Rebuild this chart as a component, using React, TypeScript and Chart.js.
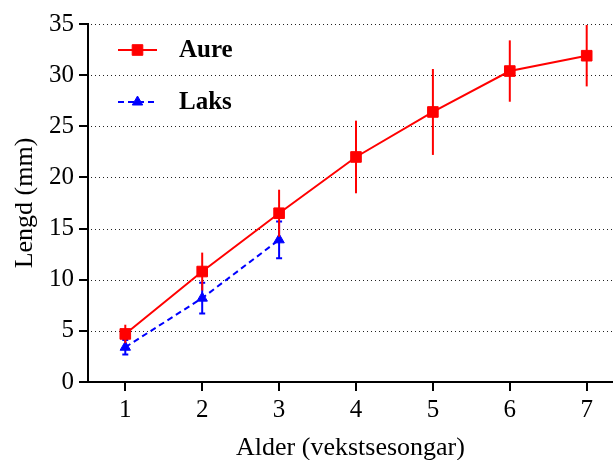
import React, { useEffect, useRef } from "react";
import { Chart, registerables } from "chart.js";

Chart.register(...registerables);

// ---- data ----
const ages = [1, 2, 3, 4, 5, 6, 7];
const aureMean = [4.7, 10.8, 16.5, 22.0, 26.4, 30.4, 31.9];
const aureErr = [0.9, 1.85, 2.3, 3.55, 4.2, 3.0, 3.0];
const laksAges = [1, 2, 3];
const laksMean = [3.4, 8.2, 13.9];
const laksErr = [0.7, 1.5, 1.8];
const yTickValues = [0, 5, 10, 15, 20, 25, 30, 35];
const xTickValues = [1, 2, 3, 4, 5, 6, 7];
const seriesNames = ["Aure", "Laks"];
const xTitle = "Alder (vekstsesongar)";
const yTitle = "Lengd (mm)";

const FONT = "'Liberation Serif', 'Times New Roman', serif";
const RED = "#ff0000";
const BLUE = "#0000ff";

const errorBarPlugin = {
  id: "errorBars",
  beforeDatasetDraw(chart: any, args: any) {
    const ds = chart.data.datasets[args.index];
    const errs: number[] = ds.errors;
    if (!errs) return;
    const ctx = chart.ctx;
    const ys = chart.scales.y;
    const xs = chart.scales.x;
    ctx.save();
    ctx.strokeStyle = ds.borderColor;
    ctx.lineWidth = 2;
    ctx.setLineDash([]);
    ds.data.forEach((p: any, i: number) => {
      const x = xs.getPixelForValue(p.x);
      const yTop = ys.getPixelForValue(p.y + errs[i]);
      const yBot = ys.getPixelForValue(p.y - errs[i]);
      ctx.beginPath();
      ctx.moveTo(x, yTop);
      ctx.lineTo(x, yBot);
      const cw = ds.capWidth || 0;
      if (cw > 0) {
        ctx.moveTo(x - cw, yTop);
        ctx.lineTo(x + cw, yTop);
        ctx.moveTo(x - cw, yBot);
        ctx.lineTo(x + cw, yBot);
      }
      ctx.stroke();
    });
    ctx.restore();
  },
};

const dottedGridPlugin = {
  id: "dottedGrid",
  beforeDatasetsDraw(chart: any) {
    const ctx = chart.ctx;
    const ys = chart.scales.y;
    const { left, right } = chart.chartArea;
    ctx.save();
    ctx.strokeStyle = "#222";
    ctx.lineWidth = 1;
    ctx.setLineDash([1, 3]);
    yTickValues.forEach((v) => {
      if (v === 0) return;
      const y = Math.round(ys.getPixelForValue(v)) + 0.5;
      ctx.beginPath();
      ctx.moveTo(left + 3, y);
      ctx.lineTo(right, y);
      ctx.stroke();
    });
    ctx.restore();
  },
};

const legendPlugin = {
  id: "insideLegend",
  afterDraw(chart: any) {
    const ctx = chart.ctx;
    const rows = [
      { y: 50, ds: chart.data.datasets[0] },
      { y: 102, ds: chart.data.datasets[1] },
    ];
    rows.forEach(({ y, ds }) => {
      ctx.save();
      ctx.strokeStyle = ds.borderColor;
      ctx.lineWidth = 2;
      ctx.setLineDash(ds.borderDash || []);
      ctx.beginPath();
      ctx.moveTo(118, y);
      ctx.lineTo(157, y);
      ctx.stroke();
      ctx.setLineDash([]);
      ctx.fillStyle = ds.backgroundColor;
      const cx = 137.5;
      ctx.beginPath();
      if (ds.pointStyle === "rect") {
        const s = Math.SQRT1_2 * ds.pointRadius;
        ctx.rect(cx - s, y - s, 2 * s, 2 * s);
      } else {
        const r = ds.pointRadius;
        let rad = 0;
        ctx.moveTo(cx + Math.sin(rad) * r, y - Math.cos(rad) * r);
        rad += (2 * Math.PI) / 3;
        ctx.lineTo(cx + Math.sin(rad) * r, y - Math.cos(rad) * r);
        rad += (2 * Math.PI) / 3;
        ctx.lineTo(cx + Math.sin(rad) * r, y - Math.cos(rad) * r);
        ctx.closePath();
      }
      ctx.fill();
      ctx.lineWidth = 1;
      ctx.strokeStyle = ds.borderColor;
      ctx.stroke();
      ctx.fillStyle = "#000";
      ctx.font = `bold 25px ${FONT}`;
      ctx.textBaseline = "middle";
      ctx.textAlign = "left";
      ctx.fillText(ds.label, 179, y + 1);
      ctx.restore();
    });
  },
};

export default function App() {
  const canvasRef = useRef<HTMLCanvasElement | null>(null);

  useEffect(() => {
    document.body.style.margin = "0";
    const canvas = canvasRef.current;
    if (!canvas) return;
    const chart = new Chart(canvas, {
      type: "line",
      data: {
        datasets: [
          {
            label: seriesNames[0],
            data: ages.map((x, i) => ({ x, y: aureMean[i] })),
            borderColor: RED,
            backgroundColor: RED,
            borderWidth: 2,
            pointStyle: "rect",
            pointRadius: 7.5,
            pointHoverRadius: 7.5,
            pointBorderWidth: 1,
            pointBackgroundColor: RED,
            pointBorderColor: RED,
            tension: 0,
            clip: false,
            errors: aureErr,
            capWidth: 0,
          } as any,
          {
            label: seriesNames[1],
            data: laksAges.map((x, i) => ({ x, y: laksMean[i] })),
            borderColor: BLUE,
            backgroundColor: BLUE,
            borderWidth: 2,
            borderDash: [6, 4],
            pointStyle: "triangle",
            pointRadius: 6,
            pointHoverRadius: 6,
            pointBorderWidth: 1,
            pointBackgroundColor: BLUE,
            pointBorderColor: BLUE,
            tension: 0,
            clip: false,
            errors: laksErr,
            capWidth: 3,
          } as any,
        ],
      },
      options: {
        responsive: false,
        animation: false,
        devicePixelRatio: 1,
        layout: { autoPadding: false, padding: { top: 24, right: 0, left: 0, bottom: 0 } },
        plugins: {
          legend: { display: false },
          tooltip: { enabled: false },
        },
        scales: {
          x: {
            type: "linear",
            min: 0.515,
            max: 7.342,
            afterBuildTicks: (s: any) => {
              s.ticks = xTickValues.map((v) => ({ value: v }));
            },
            afterFit: (s: any) => {
              s.height = 78;
              s.paddingLeft = 0;
              s.paddingRight = 0;
            },
            grid: {
              drawOnChartArea: false,
              drawTicks: true,
              tickLength: 9,
              color: "#000",
              lineWidth: 2,
            },
            border: { display: true, color: "#000", width: 2 },
            ticks: {
              color: "#000",
              font: { family: FONT, size: 25 },
              padding: 4,
              autoSkip: false,
              maxRotation: 0,
            },
            title: {
              display: true,
              text: xTitle,
              color: "#000",
              font: { family: FONT, size: 26, lineHeight: 1 },
              padding: { top: 0, bottom: -1 },
            },
          },
          y: {
            type: "linear",
            min: 0,
            max: 35,
            afterBuildTicks: (s: any) => {
              s.ticks = yTickValues.map((v) => ({ value: v }));
            },
            afterFit: (s: any) => {
              s.width = 88;
              s.paddingTop = 0;
              s.paddingBottom = 0;
            },
            grid: {
              drawOnChartArea: false,
              drawTicks: true,
              tickLength: 9,
              color: "#000",
              lineWidth: 2,
            },
            border: { display: true, color: "#000", width: 2 },
            ticks: {
              color: "#000",
              font: { family: FONT, size: 25 },
              padding: 5,
            },
            title: {
              display: true,
              text: yTitle,
              color: "#000",
              font: { family: FONT, size: 26, lineHeight: 1 },
              padding: { top: 12, bottom: 0 },
            },
          },
        },
      },
      plugins: [dottedGridPlugin, errorBarPlugin, legendPlugin],
    } as any);
    return () => chart.destroy();
  }, []);

  return (
    <div style={{ width: 613, height: 460 }}>
      <canvas ref={canvasRef} width={613} height={460} style={{ display: "block" }} />
    </div>
  );
}
